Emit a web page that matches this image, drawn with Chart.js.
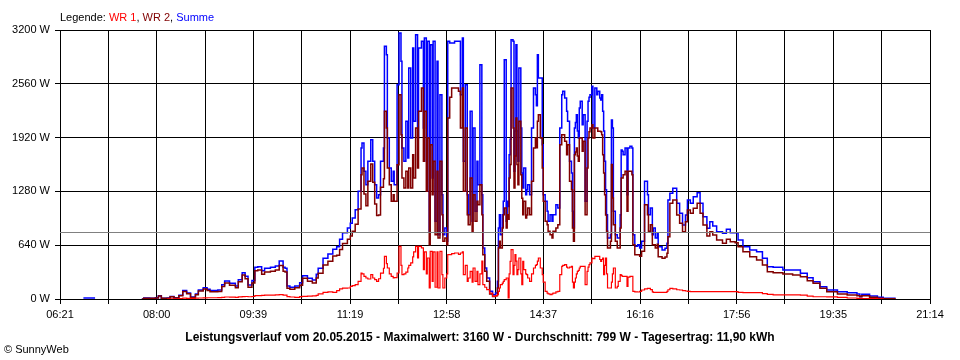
<!DOCTYPE html>
<html><head><meta charset="utf-8">
<style>
html,body{margin:0;padding:0;background:#fff;width:960px;height:360px;overflow:hidden;font-family:"Liberation Sans",Arial,sans-serif;}
#wrap{position:relative;width:960px;height:360px;}
canvas{position:absolute;left:0;top:0;}
.legend{position:absolute;left:60px;top:12px;font-size:11px;line-height:11px;white-space:nowrap;color:#000;}
.title{position:absolute;left:0;width:960px;text-align:center;top:331px;font-size:12px;font-weight:bold;line-height:12px;white-space:nowrap;color:#000;}
.copy{position:absolute;left:4px;top:344px;font-size:11px;line-height:11px;white-space:nowrap;color:#000;}
</style>
<script src="https://cdn.jsdelivr.net/npm/chart.js@4.4.1/dist/chart.umd.min.js"></script>
</head><body>
<div id="wrap">
<canvas id="c" width="960" height="360"></canvas>
<div class="legend">Legende: <span style="color:#ff0000">WR 1</span>, <span style="color:#800000">WR 2</span>, <span style="color:#0000ff">Summe</span></div>
<div class="title">Leistungsverlauf vom 20.05.2015 - Maximalwert: 3160 W - Durchschnitt: 799 W - Tagesertrag: 11,90 kWh</div>
<div class="copy">© SunnyWeb</div>
</div>
<script>
// time of day in minutes since midnight
const minutes = [
405,417,418,465,467,473,479,482,485,491,
494,498,503,507,511,515,520,523,528,532,
535,539,543,547,550,555,561,564,568,571,
574,578,581,584,588,591,597,602,606,610,
612,614,617,622,627,630,635,640,644,646,
651,656,661,665,668,671,676,679,681,684,
687,690,691,693,695,697,700,702,704,706,
708,710,713,714,716,717,719,721,723,724,
727,729,731,732,734,736,738,739,741,743,
744,746,748,749,752,754,755,757,758,760,
761,763,764,766,768,769,771,773,774,776,
778,779,781,783,786,790,792,794,795,797,
799,800,802,804,805,807,809,810,812,814,
815,817,819,822,825,828,830,831,832,833,
835,836,837,839,840,841,842,843,844,846,
847,848,849,850,851,852,854,855,856,857,
859,860,861,863,865,867,869,870,871,872,
874,876,877,879,881,882,884,886,887,890,
892,894,896,897,899,901,902,904,906,907,
908,909,910,911,912,913,914,915,917,918,
920,922,923,924,925,927,928,930,932,933,
935,936,937,938,939,940,941,942,943,946,
947,948,949,951,953,954,956,957,958,959,
961,963,964,966,968,969,971,974,976,978,
981,984,985,987,989,990,992,994,995,999,
1002,1004,1005,1007,1010,1014,1017,1020,1023,1025,
1028,1031,1035,1038,1041,1045,1048,1051,1055,1061,
1065,1069,1074,1077,1082,1089,1096,1102,1107,1113,
1123,1133,1141,1148,1154,1161,1168,1179,1189,1199,
1202,1204,1212,1220,1226,1238
];
const summe = [
12,12,null,0,12,10,15,40,10,12,
30,15,45,100,70,25,60,107,134,115,
100,100,107,170,214,187,155,230,313,270,
167,220,377,384,337,365,377,393,452,377,
365,155,139,155,194,277,246,226,294,365,
484,535,591,622,710,789,845,900,963,1063,
1281,1796,1856,1519,1360,1638,1895,1638,1360,1202,
1241,1638,1796,3006,2906,1915,1558,1400,1519,1360,
2549,3164,2827,1796,1638,2114,1677,2748,1915,2986,
2114,3144,1915,2986,3065,2034,3105,1638,3065,805,
3025,1439,3065,924,2827,765,2430,1241,765,845,
686,3065,3045,3045,3065,3065,2430,3105,1638,2549,
1241,1003,2233,924,2034,1043,1638,1360,2787,1241,
607,369,250,91,51,71,210,845,1003,765,
1003,1162,2847,924,1162,1100,1717,1900,3085,3065,
1519,2000,3025,2000,1638,2748,2034,1500,1320,1558,
1241,1300,1360,1241,2034,2510,2430,2300,2906,2629,
2629,1836,1241,1162,1043,924,1003,924,1003,1122,
1083,2034,2430,2471,2391,2233,2114,1638,1500,1043,
845,2034,2100,2193,2000,1915,2272,2351,2074,2193,
1162,2114,2351,2400,2430,2530,2034,2510,2430,2471,
2391,2367,2430,2233,2000,1638,1300,1003,726,765,
2129,2034,1043,765,726,726,1003,1772,1757,1717,
1796,1241,1796,1816,1796,765,627,646,607,686,
1400,1241,1003,1083,765,845,726,781,622,583,
603,662,1178,1257,1317,1138,1019,880,999,1178,
1138,1217,1265,1138,979,841,920,868,801,781,
829,789,789,702,622,583,563,484,384,377,
345,345,305,254,206,147,107,87,75,59,
27,56,36,20,8,4
];
const wr2 = [
null,null,null,0,10,8,13,35,8,10,
27,12,40,90,62,18,50,95,120,100,
85,85,90,150,190,165,135,205,285,240,
140,190,337,345,294,320,330,345,400,330,
320,127,115,135,165,246,212,190,250,305,
404,450,512,520,590,660,710,750,805,890,
1070,1479,1558,1250,1110,1400,1606,1390,1130,992,
1000,1330,1430,2233,2034,1558,1360,1162,1241,1162,
1598,2430,1955,1439,1320,1519,1320,1558,1320,1717,
1439,2034,1558,2233,2510,1638,2233,1281,1915,646,
1836,1241,1638,765,1519,726,1638,1003,686,726,
646,2153,2400,2510,2510,2471,2034,2510,1281,2034,
1003,884,1439,805,1241,924,1162,1122,1360,1003,
527,329,210,60,30,40,131,607,686,607,
845,1003,1083,845,1003,950,1439,1600,2510,2034,
1320,1700,2153,1600,1360,2114,1479,1200,1003,1162,
963,1000,1083,1003,1400,1796,1915,1800,2114,2193,
1915,1558,1162,924,884,805,765,726,805,845,
884,1836,1955,1955,1876,1717,1836,1400,1300,845,
686,1717,1750,1796,1700,1638,1915,1915,1757,1876,
1003,1558,1915,1990,2034,2074,1915,2034,2034,1995,
1995,1990,1955,1717,1500,1241,1000,805,607,686,
1600,1202,884,686,607,607,845,1439,1439,1479,
1519,1043,1519,1519,1479,646,527,527,508,567,
1122,1003,805,884,646,646,607,650,503,484,
500,543,741,1138,1178,999,900,801,920,1059,
1019,1079,1138,1019,880,749,801,761,702,662,
710,682,670,622,563,503,464,404,325,313,
297,286,265,218,187,127,87,59,48,40,
30,38,20,10,2,0
];
const wr1 = [
null,null,null,null,null,null,null,null,null,2,
3,3,5,10,8,7,10,12,14,15,
15,15,17,20,24,22,20,25,28,30,
27,30,40,39,43,45,47,48,52,47,
45,28,24,20,29,31,34,36,44,60,
80,85,79,100,120,129,131,150,158,171,
210,309,298,270,250,238,289,250,230,210,
241,308,366,508,420,369,300,270,250,255,
309,627,400,289,300,320,369,400,430,500,
560,627,488,627,607,350,560,300,488,131,
567,210,560,140,560,131,567,289,131,250,
300,527,527,540,547,530,547,560,289,400,
210,250,329,200,369,210,329,170,300,450,
170,140,111,71,32,40,51,91,131,170,
190,210,230,250,250,12,300,448,587,289,
400,527,450,289,350,488,300,170,448,350,
300,289,250,210,300,369,400,408,450,488,
369,289,200,91,70,60,51,60,71,85,
91,289,389,400,408,380,369,380,389,200,
131,200,250,300,329,340,369,389,389,389,
170,329,380,408,430,488,480,508,508,508,
470,448,470,488,289,400,488,300,131,131,
200,300,369,131,150,210,289,280,270,270,
270,151,260,270,270,91,85,83,90,107,
120,127,127,111,85,80,80,80,80,80,
80,90,110,127,120,110,107,100,95,90,
87,87,87,87,87,87,87,87,87,87,
87,87,87,80,75,75,75,65,55,48,
48,48,45,35,27,27,25,20,12,8,
8,6,4,2,0,null
];
const timeLabels = ['06:21','08:00','09:39','11:19','12:58','14:37','16:16','17:56','19:35','21:14'];
const yLabels = ['0 W','640 W','1280 W','1920 W','2560 W','3200 W'];
const durchschnitt = 799;
const xStart = 381, xEnd = 1274;

const FONT = '"Liberation Sans", Arial, sans-serif';
function toPoints(arr){ return arr.map((v,i)=>({x:minutes[i], y:v})); }

const gridCount = (timeLabels.length - 1) * 2;
const gridTicks = [];
for (let k = 0; k <= gridCount; k++) gridTicks.push({value: xStart + k * (xEnd - xStart) / gridCount});

const avgPlugin = {
  id:'avgLine',
  afterDatasetsDraw(chart){
    const {ctx, chartArea:a, scales:{y}} = chart;
    const py = Math.round(y.getPixelForValue(durchschnitt)) + 0.5;
    ctx.save();
    ctx.strokeStyle = '#808080'; ctx.lineWidth = 1;
    ctx.beginPath(); ctx.moveTo(a.left, py); ctx.lineTo(a.right, py); ctx.stroke();
    ctx.restore();
  }
};

const common = {pointRadius:0, stepped:true, fill:false, spanGaps:false, tension:0};
new Chart(document.getElementById('c'), {
  type:'line',
  data:{datasets:[
    Object.assign({label:'WR 1', data:toPoints(wr1), borderColor:'#ff0000', borderWidth:1.2}, common),
    Object.assign({label:'WR 2', data:toPoints(wr2), borderColor:'#800000', borderWidth:1.5}, common),
    Object.assign({label:'Summe', data:toPoints(summe), borderColor:'#0000ff', borderWidth:1.5}, common)
  ]},
  options:{
    responsive:false, animation:false, devicePixelRatio:1,
    layout:{padding:{top:30, right:30, left:0, bottom:0}},
    plugins:{legend:{display:false}, tooltip:{enabled:false}},
    scales:{
      x:{
        type:'linear', min:xStart, max:xEnd, z:1,
        afterBuildTicks:(s)=>{ s.ticks = gridTicks.map(t=>({value:t.value})); },
        afterFit:(s)=>{ s.height = 61; },
        grid:{color:'#000', lineWidth:1, tickLength:5, drawTicks:true},
        border:{color:'#000', width:1},
        ticks:{autoSkip:false, maxRotation:0, minRotation:0, padding:4, color:'#000',
          font:{family:FONT, size:11},
          callback:(v,i)=> (i % 2 === 0 ? timeLabels[i/2] : '')}
      },
      y:{
        min:0, max:3200, z:1,
        afterFit:(s)=>{ s.width = 60; },
        grid:{color:'#000', lineWidth:1, tickLength:5, drawTicks:true},
        border:{color:'#000', width:1},
        ticks:{stepSize:640, padding:5, color:'#000', font:{family:FONT, size:11},
          callback:(v,i)=> yLabels[i]}
      }
    }
  },
  plugins:[avgPlugin]
});
</script>
</body></html>
